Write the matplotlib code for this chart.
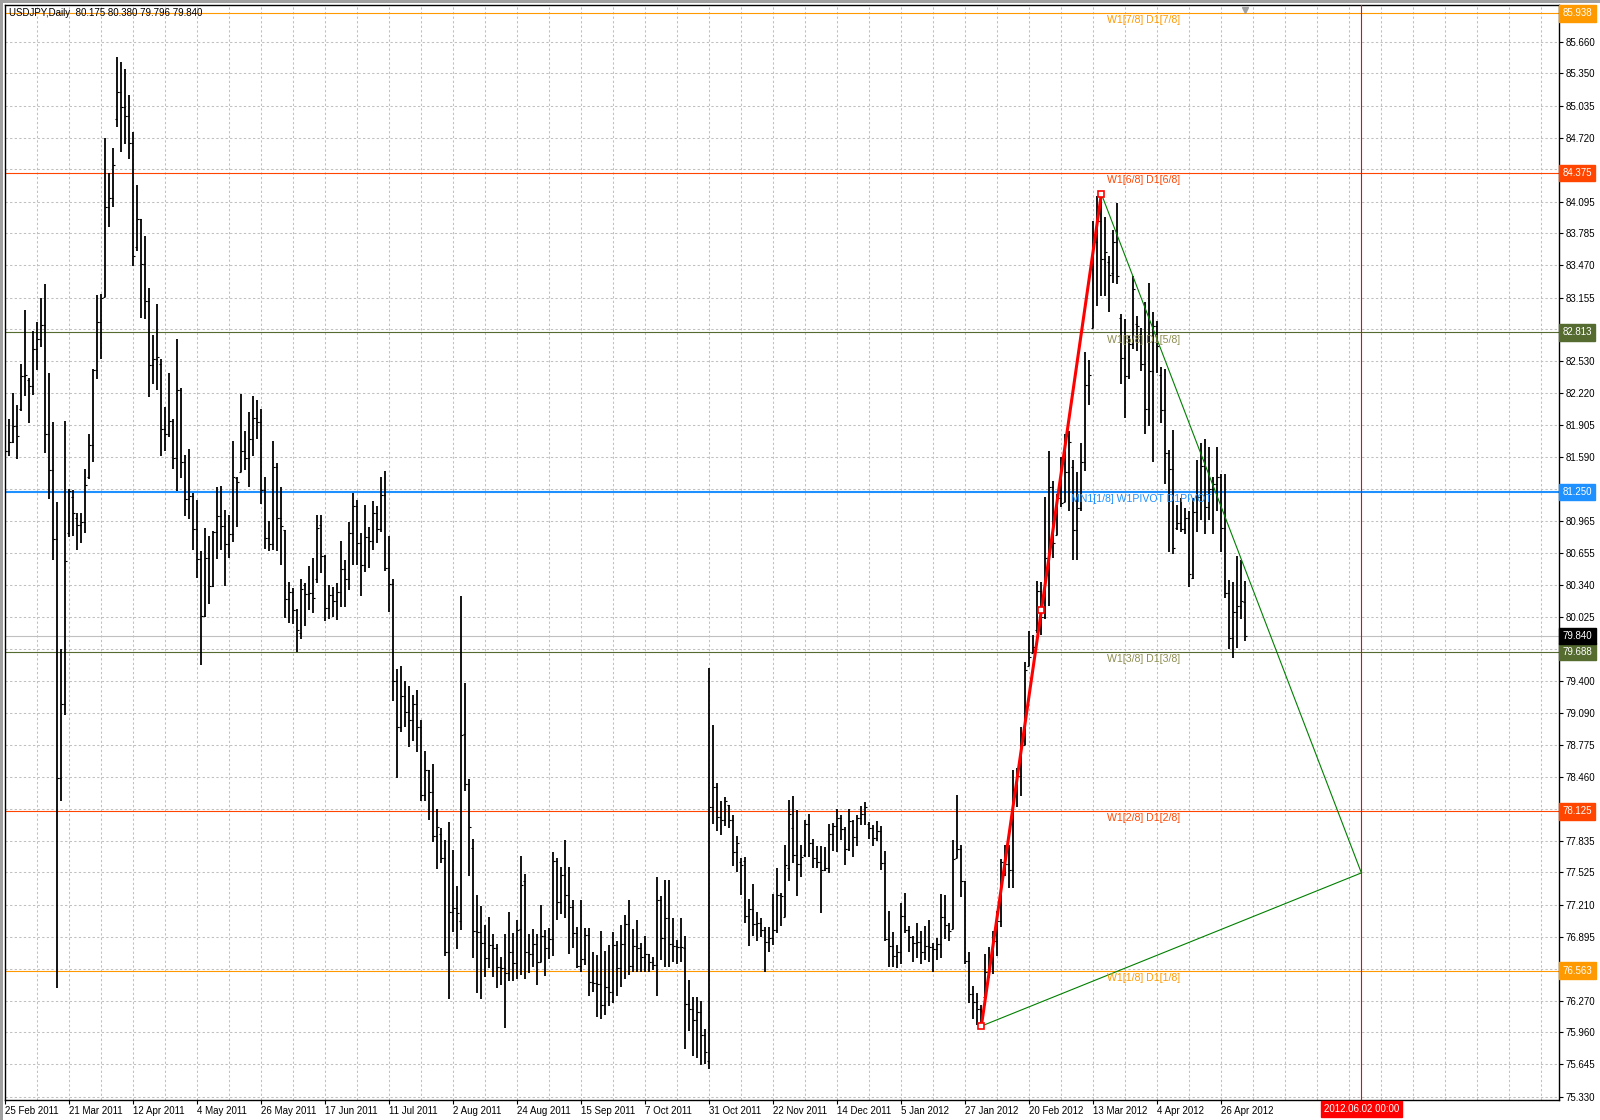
import numpy as np
import matplotlib
matplotlib.use("Agg")
import matplotlib.pyplot as plt
from matplotlib.patches import Rectangle

plt.rcParams['font.family'] = ['Liberation Sans', 'DejaVu Sans']

# ---- USDJPY daily bars (25 Feb 2011 .. early May 2012) ----
opens = [
    81.66, 81.65, 81.74, 81.90, 82.06, 82.39, 82.35, 82.29, 82.65, 82.75,
    82.89, 81.82, 81.47, 80.79, 78.45, 79.17, 80.85, 81.20, 81.00, 80.93,
    80.96, 81.40, 81.71, 82.45, 82.92, 83.16, 84.04, 84.13, 84.90, 85.17,
    85.02, 84.93, 84.67, 83.65, 83.92, 83.48, 83.12, 82.49, 82.55, 82.50,
    81.87, 81.82, 81.95, 81.58, 82.25, 81.54, 81.18, 81.21, 80.89, 80.59,
    80.04, 80.60, 80.33, 80.86, 81.02, 80.92, 80.74, 80.84, 81.39, 81.45,
    81.65, 81.58, 81.77, 81.98, 81.94, 81.27, 80.80, 80.74, 81.50, 81.00,
    80.88, 80.20, 80.27, 80.09, 79.87, 80.34, 80.25, 80.26, 80.40, 80.93,
    80.62, 80.11, 80.24, 80.18, 80.27, 80.50, 80.40, 80.85, 81.11, 80.75,
    80.54, 80.81, 80.77, 81.04, 80.89, 81.22, 80.51, 80.35, 79.40, 78.95,
    79.25, 79.10, 79.02, 79.17, 78.95, 78.28, 78.53, 78.31, 77.88, 77.90,
    77.67, 76.75, 77.14, 77.18, 77.05, 78.88, 78.39, 77.76, 76.95, 76.94,
    76.83, 76.69, 76.81, 76.78, 76.60, 76.59, 76.54, 76.75, 76.64, 76.97,
    77.44, 76.75, 76.73, 76.82, 76.65, 76.90, 76.78, 76.87, 77.64, 77.24,
    77.50, 77.30, 77.19, 76.93, 76.61, 76.68, 76.91, 76.45, 76.44, 76.43,
    76.23, 76.40, 76.35, 76.81, 76.59, 76.82, 77.02, 76.61, 76.80, 76.78,
    76.70, 76.73, 76.65, 76.62, 77.25, 76.88, 77.08, 76.82, 76.80, 76.79,
    76.78, 76.24, 76.19, 76.08, 76.16, 75.93, 75.68, 78.17, 78.36, 78.07,
    78.04, 78.19, 78.04, 77.72, 77.63, 77.64, 77.10, 77.17, 77.02, 77.03,
    76.96, 76.84, 76.88, 76.96, 77.30, 77.09, 77.57, 77.96, 77.70, 77.61,
    77.70, 78.00, 77.81, 77.67, 77.63, 77.55, 77.57, 77.90, 77.98, 78.06,
    77.95, 77.75, 78.03, 77.87, 78.06, 78.10, 78.00, 77.96, 77.86, 77.93,
    77.62, 76.87, 76.80, 76.71, 76.75, 77.10, 76.96, 76.89, 76.83, 76.84,
    76.75, 76.80, 76.79, 76.77, 76.82, 77.09, 77.01, 76.97, 77.67, 77.75,
    77.44, 76.66, 76.33, 76.26, 76.19, 76.30, 76.55, 76.70, 76.85, 77.05,
    77.63, 77.61, 77.55, 78.33, 78.47, 78.77, 79.55, 79.67, 79.90, 80.28,
    80.03, 80.60, 81.30, 80.83, 81.19, 81.15, 81.45, 81.50, 80.88, 81.09,
    81.54, 82.30, 82.86, 83.70, 83.90, 83.53, 83.50, 83.40, 83.70, 82.95,
    82.56, 82.39, 82.70, 82.90, 82.80, 82.50, 82.06, 82.44, 82.88, 82.40,
    82.05, 81.63, 81.48, 80.90, 80.95, 80.89, 81.00, 80.41, 81.05, 81.20,
    81.51, 81.10, 81.28, 81.33, 81.40, 80.90, 80.26, 79.82, 80.08, 80.13,
    80.175,
]
highs = [
    82.05, 81.97, 82.22, 82.10, 82.50, 83.03, 82.37, 82.83, 82.92, 83.15,
    83.29, 82.42, 81.94, 81.15, 79.71, 81.95, 81.28, 81.27, 81.04, 81.04,
    81.48, 81.82, 82.46, 83.18, 83.19, 84.72, 84.37, 84.62, 85.51, 85.46,
    85.39, 85.14, 84.78, 84.26, 83.92, 83.76, 83.25, 82.79, 83.09, 82.55,
    82.08, 82.42, 81.97, 82.75, 82.27, 81.61, 81.67, 81.24, 81.17, 80.67,
    80.90, 80.82, 80.87, 81.30, 81.31, 81.07, 81.03, 81.75, 81.40, 82.21,
    81.85, 82.03, 82.19, 82.15, 82.06, 81.40, 80.97, 81.75, 81.53, 81.30,
    80.88, 80.37, 80.31, 80.10, 80.40, 80.36, 80.53, 80.60, 81.03, 81.03,
    80.63, 80.34, 80.32, 80.36, 80.77, 80.58, 80.96, 81.24, 81.17, 80.85,
    81.12, 80.91, 81.16, 81.11, 81.40, 81.46, 80.82, 80.40, 79.52, 79.55,
    79.40, 79.35, 79.26, 79.31, 79.02, 78.71, 78.53, 78.59, 78.15, 77.96,
    77.84, 78.02, 77.74, 77.39, 80.23, 79.38, 78.44, 77.85, 77.30, 77.20,
    77.01, 77.09, 76.92, 76.82, 76.70, 76.92, 77.14, 76.93, 77.06, 77.69,
    77.51, 76.92, 76.97, 76.92, 77.21, 76.96, 76.98, 77.72, 77.67, 77.58,
    77.84, 77.58, 77.25, 76.99, 77.25, 76.98, 76.98, 76.75, 76.72, 76.95,
    76.76, 76.81, 76.94, 76.85, 77.01, 77.11, 77.25, 76.97, 77.06, 76.83,
    76.90, 76.73, 76.70, 77.48, 77.29, 77.45, 77.45, 77.08, 76.86, 77.08,
    76.90, 76.47, 76.30, 76.30, 76.27, 75.99, 79.53, 78.97, 78.40, 78.22,
    78.26, 78.19, 78.09, 77.88, 77.67, 77.68, 77.26, 77.41, 77.14, 77.08,
    76.99, 76.99, 77.31, 77.57, 77.32, 77.79, 78.23, 78.27, 78.14, 77.79,
    78.04, 78.10, 77.85, 77.78, 77.78, 77.77, 78.00, 78.01, 78.15, 78.09,
    77.97, 78.15, 78.04, 78.09, 78.18, 78.21, 78.02, 77.99, 78.03, 77.98,
    77.73, 77.15, 76.94, 76.81, 77.23, 77.32, 77.00, 76.90, 77.03, 76.95,
    77.00, 77.06, 76.83, 76.88, 77.31, 77.30, 77.03, 77.84, 78.28, 77.79,
    77.44, 76.75, 76.41, 76.34, 76.23, 76.73, 76.79, 76.95, 77.15, 77.66,
    77.79, 77.79, 78.53, 78.55, 78.95, 79.59, 79.89, 79.85, 80.38, 80.37,
    81.20, 81.65, 81.36, 81.23, 81.59, 81.82, 81.85, 81.56, 81.45, 81.73,
    82.62, 82.54, 83.90, 84.15, 84.18, 83.94, 83.56, 83.82, 84.08, 82.99,
    82.94, 82.78, 83.37, 82.97, 82.86, 83.11, 83.30, 83.01, 82.93, 82.47,
    82.46, 81.66, 81.86, 81.12, 81.19, 81.09, 81.06, 81.19, 81.56, 81.73,
    81.77, 81.69, 81.40, 81.69, 81.43, 81.43, 80.39, 80.37, 80.62, 80.58,
    80.38,
]
lows = [
    81.60, 81.60, 81.73, 81.57, 82.04, 82.19, 81.93, 82.20, 82.45, 82.67,
    81.63, 81.18, 80.58, 76.39, 78.22, 79.07, 80.81, 80.82, 80.68, 80.75,
    80.85, 81.38, 81.54, 82.36, 82.55, 83.16, 83.85, 84.04, 84.83, 84.58,
    84.66, 84.51, 83.46, 83.61, 82.95, 82.94, 82.18, 82.31, 82.25, 81.60,
    81.65, 81.79, 81.48, 81.26, 81.39, 81.02, 80.99, 80.68, 80.41, 79.56,
    80.03, 80.15, 80.32, 80.59, 80.68, 80.33, 80.60, 80.76, 80.91, 81.45,
    81.47, 81.30, 81.60, 81.77, 81.13, 80.69, 80.67, 80.68, 80.67, 80.54,
    80.02, 79.97, 79.96, 79.68, 79.81, 79.94, 80.09, 80.07, 80.36, 80.46,
    79.99, 80.01, 80.03, 80.00, 80.12, 80.12, 80.29, 80.54, 80.54, 80.23,
    80.47, 80.51, 80.68, 80.75, 80.86, 80.48, 80.08, 79.20, 78.45, 78.90,
    78.95, 78.75, 78.81, 78.70, 78.22, 78.22, 78.04, 77.82, 77.56, 77.62,
    76.71, 76.29, 76.94, 76.77, 76.96, 78.32, 77.49, 76.69, 76.34, 76.29,
    76.50, 76.59, 76.50, 76.39, 76.42, 76.00, 76.46, 76.46, 76.48, 76.52,
    76.48, 76.54, 76.60, 76.42, 76.65, 76.51, 76.68, 76.71, 77.06, 77.12,
    77.08, 76.73, 76.78, 76.59, 76.55, 76.62, 76.31, 76.35, 76.11, 76.09,
    76.13, 76.22, 76.25, 76.31, 76.40, 76.48, 76.52, 76.55, 76.55, 76.55,
    76.55, 76.55, 76.57, 76.31, 76.67, 76.60, 76.60, 76.65, 76.63, 76.65,
    75.80, 75.97, 75.73, 75.71, 75.64, 75.65, 75.60, 78.00, 77.93, 77.89,
    77.98, 77.96, 77.59, 77.53, 77.30, 77.03, 76.80, 76.90, 76.85, 76.89,
    76.55, 76.75, 76.81, 76.93, 77.00, 77.09, 77.44, 77.62, 77.29, 77.48,
    77.68, 77.68, 77.57, 77.57, 77.13, 77.54, 77.52, 77.73, 77.72, 77.84,
    77.60, 77.73, 77.68, 77.78, 77.99, 77.99, 77.85, 77.78, 77.83, 77.55,
    76.85, 76.60, 76.60, 76.59, 76.63, 76.93, 76.75, 76.65, 76.69, 76.63,
    76.67, 76.65, 76.55, 76.67, 76.69, 76.87, 76.85, 76.97, 77.67, 77.28,
    76.63, 76.25, 76.09, 76.03, 76.02, 76.27, 76.49, 76.53, 76.71, 76.99,
    77.49, 77.37, 77.37, 78.17, 78.27, 78.77, 79.55, 79.67, 79.87, 79.85,
    80.01, 80.13, 80.60, 80.83, 81.10, 81.15, 81.06, 80.58, 80.58, 81.06,
    81.46, 82.10, 82.86, 83.07, 83.17, 83.17, 83.01, 83.30, 83.29, 82.31,
    81.98, 82.36, 82.65, 82.63, 82.44, 81.82, 81.90, 81.54, 82.42, 81.93,
    81.33, 80.66, 80.64, 80.88, 80.86, 80.84, 80.32, 80.40, 80.86, 80.98,
    80.84, 80.98, 80.84, 81.06, 80.66, 80.21, 79.71, 79.62, 79.72, 80.01,
    79.796,
]
closes = [
    81.65, 81.74, 81.90, 81.80, 82.39, 82.40, 82.29, 82.65, 82.75, 82.89,
    81.82, 81.47, 80.79, 78.45, 79.17, 80.57, 81.26, 81.04, 80.93, 80.96,
    81.32, 81.71, 82.45, 82.92, 83.15, 84.04, 84.13, 84.45, 85.17, 85.02,
    84.93, 84.67, 83.56, 83.92, 83.48, 83.12, 82.49, 82.55, 82.57, 81.87,
    81.82, 81.95, 81.58, 82.25, 81.54, 81.18, 81.21, 80.89, 80.59, 80.04,
    80.60, 80.33, 80.86, 81.02, 80.92, 80.74, 80.84, 81.40, 81.35, 81.65,
    81.58, 81.77, 81.98, 81.94, 81.27, 80.80, 80.74, 81.50, 81.00, 80.92,
    80.20, 80.27, 80.09, 79.90, 80.30, 80.25, 80.26, 80.21, 80.90, 80.62,
    80.11, 80.24, 80.18, 80.27, 80.50, 80.40, 80.85, 81.11, 80.75, 80.54,
    80.81, 80.77, 81.04, 80.89, 81.22, 80.51, 80.35, 79.40, 78.95, 79.25,
    79.10, 79.02, 79.17, 78.95, 78.28, 78.53, 78.31, 77.88, 77.97, 77.67,
    76.75, 77.14, 77.18, 77.13, 78.87, 78.39, 77.97, 76.95, 76.94, 76.83,
    76.69, 76.81, 76.78, 76.60, 76.59, 76.54, 76.75, 76.64, 76.96, 77.40,
    76.75, 76.73, 76.82, 76.65, 76.90, 76.78, 76.87, 77.64, 77.24, 77.50,
    77.30, 77.19, 76.93, 76.61, 76.68, 76.91, 76.45, 76.44, 76.43, 76.23,
    76.40, 76.35, 76.81, 76.59, 76.82, 77.02, 76.61, 76.80, 76.78, 76.70,
    76.73, 76.65, 76.62, 77.25, 76.88, 77.08, 76.82, 76.80, 76.79, 76.79,
    76.24, 76.19, 76.08, 76.16, 75.93, 75.77, 78.17, 78.36, 78.07, 78.04,
    78.22, 78.04, 77.72, 77.81, 77.60, 77.10, 77.17, 77.02, 77.03, 76.96,
    76.84, 76.88, 76.96, 77.30, 77.29, 77.60, 78.10, 77.70, 77.61, 77.68,
    78.00, 77.81, 77.67, 77.63, 77.55, 77.57, 77.90, 77.98, 78.06, 77.95,
    77.75, 78.03, 77.87, 78.06, 78.10, 78.17, 77.96, 77.86, 77.93, 77.62,
    76.87, 76.80, 76.71, 76.75, 77.10, 76.96, 76.89, 76.83, 76.84, 76.75,
    76.80, 76.79, 76.77, 76.82, 77.09, 77.01, 76.95, 77.66, 77.75, 77.44,
    76.66, 76.33, 76.26, 76.19, 76.17, 76.55, 76.70, 76.85, 77.05, 77.63,
    77.61, 77.55, 78.33, 78.47, 78.77, 79.51, 79.63, 79.73, 80.28, 80.03,
    80.60, 81.30, 80.75, 81.19, 81.14, 81.45, 81.74, 80.88, 81.09, 81.54,
    82.30, 82.40, 83.70, 83.90, 83.53, 83.60, 83.38, 83.70, 83.37, 82.56,
    82.39, 82.70, 83.24, 82.88, 82.50, 82.06, 82.44, 82.88, 82.68, 82.05,
    81.63, 81.48, 80.70, 80.95, 80.89, 81.00, 80.45, 81.05, 81.20, 81.51,
    81.10, 81.28, 81.33, 81.40, 80.90, 80.26, 79.82, 80.08, 80.13, 80.18,
    79.84,
]

date_labels = ["25 Feb 2011", "21 Mar 2011", "12 Apr 2011", "4 May 2011",
               "26 May 2011", "17 Jun 2011", "11 Jul 2011", "2 Aug 2011",
               "24 Aug 2011", "15 Sep 2011", "7 Oct 2011", "31 Oct 2011",
               "22 Nov 2011", "14 Dec 2011", "5 Jan 2012", "27 Jan 2012",
               "20 Feb 2012", "13 Mar 2012", "4 Apr 2012", "26 Apr 2012"]
date_bars = [0, 16, 32, 48, 64, 80, 96, 112, 128, 144, 160, 176,
             192, 208, 224, 240, 256, 272, 288, 304]

price_ticks = [85.660, 85.350, 85.035, 84.720, 84.410, 84.095, 83.785, 83.470,
               83.155, 82.845, 82.530, 82.220, 81.905, 81.590, 81.280, 80.965,
               80.655, 80.340, 80.025, 79.715, 79.400, 79.090, 78.775, 78.460,
               78.150, 77.835, 77.525, 77.210, 76.895, 76.580, 76.270, 75.960,
               75.645, 75.330]

# Murrey-math style levels
level_prices = [85.938, 84.375, 82.813, 81.250, 79.688, 78.125, 76.563]
level_names = ["W1[7/8] D1[7/8]", "W1[6/8] D1[6/8]", "W1[5/8] D1[5/8]",
               "MN1[1/8] W1PIVOT D1PIVOT", "W1[3/8] D1[3/8]",
               "W1[2/8] D1[2/8]", "W1[1/8] D1[1/8]"]
level_colors = ["#ff9900", "#ff4500", "#556b2f", "#1e90ff",
                "#556b2f", "#ff4500", "#ff9900"]
level_text_colors = ["#ff9900", "#ff4500", "#8c8c50", "#1e90ff",
                     "#8c8c50", "#ff4500", "#ff9900"]

bid_price = 79.840

# zigzag (red) and triangle (green) drawing points: (bar index, price)
zz_bars = [244, 259, 274]
zz_prices = [76.02, 80.09, 84.17]
tri_bars = [244, 339, 274]
tri_prices = [76.02, 77.52, 84.17]

vline_bar = 339
vline_label = "2012.06.02 00:00"
title = "USDJPY,Daily  80.175 80.380 79.796 79.840"

# ---- figure ----
fig = plt.figure(figsize=(16, 11.2), dpi=100, facecolor='white')
ax = fig.add_axes([4.5 / 1600, 20 / 1120, 1554.5 / 1600, 1095.3 / 1120])
ax.set_facecolor('white')

x = np.arange(len(closes))
ax.set_xlim(-0.2, 388.4)
ax.set_ylim(75.296, 86.023)

grid_kw = dict(color='#c0c0c0', linestyle=(0, (2.2, 2.2)), linewidth=0.75, zorder=0)
for v in range(8, 389, 8):
    ax.axvline(v, **grid_kw)
for p in price_ticks:
    ax.axhline(p, **grid_kw)

# level lines
for p, c in zip(level_prices, level_colors):
    ax.axhline(p, color=c, lw=1.5 if c == "#1e90ff" else 0.8, zorder=1)
ax.axhline(bid_price, color='#c0c0c0', lw=0.8, zorder=1)

# bars
ax.vlines(x, lows, highs, color='black', lw=1.3, zorder=3)
ax.hlines(opens, x - 0.5, x, color='black', lw=0.8, zorder=3)
ax.hlines(closes, x, x + 0.5, color='black', lw=0.8, zorder=3)

# drawings
ax.plot(tri_bars[:2], tri_prices[:2], color='#008000', lw=0.8, zorder=4)
ax.plot(tri_bars[1:], tri_prices[1:], color='#008000', lw=0.8, zorder=4)
ax.plot(zz_bars, zz_prices, color='red', lw=2.2, zorder=5)
ax.plot(zz_bars, zz_prices, ls='none', marker='s', ms=4.5, mfc='white',
        mec='red', mew=1.2, zorder=6)

ax.axvline(vline_bar, color='red', lw=0.8, zorder=4)

# level labels inside the chart
for p, name, c, in zip(level_prices, level_names, level_text_colors):
    lx = 266.4 if name.startswith("MN1") else 275.4
    ax.annotate(name, xy=(lx, p), xytext=(0, -1.5), textcoords='offset points',
                ha='left', va='top', fontsize=7.6, color=c, zorder=7)

# axes styling
ax.yaxis.tick_right()
ax.set_yticks(price_ticks)
ax.set_yticklabels([f"{p:.3f}" for p in price_ticks])
ax.set_xticks(date_bars)
ax.set_xticklabels(date_labels, ha='left')
ax.tick_params(axis='both', labelsize=7, length=3, width=0.8, pad=1.5,
               colors='black')
for s in ax.spines.values():
    s.set_color('black')
    s.set_linewidth(1.0)

# price boxes on the right axis
box_kw = dict(xycoords=('axes fraction', 'data'), xytext=(2.5, 0),
              textcoords='offset points', ha='left', va='center', fontsize=7,
              color='white', annotation_clip=False, zorder=10)
for p, c in zip(level_prices, level_colors):
    ax.annotate(f"{p:.3f}", xy=(1, p),
                bbox=dict(boxstyle='square,pad=0.35', fc=c, ec=c), **box_kw)
ax.annotate(f"{bid_price:.3f}", xy=(1, bid_price),
            bbox=dict(boxstyle='square,pad=0.35', fc='black', ec='black'), **box_kw)

# date box for the vertical line
ax.annotate(vline_label, xy=(vline_bar, 0), xycoords=('data', 'axes fraction'),
            xytext=(0, -6.5), textcoords='offset points', ha='center', va='center',
            fontsize=7, color='white', annotation_clip=False,
            bbox=dict(boxstyle='square,pad=0.3', fc='red', ec='red'), zorder=10)

# chart shift marker
ax.plot([310], [0.995], transform=ax.get_xaxis_transform(), marker='v',
        color='#a0a0a0', ms=5, clip_on=False, zorder=8)

fig.text(9 / 1600, 1 - 13.3 / 1120, title, fontsize=7, va='center', ha='left',
         color='black', zorder=10)

# window frame
fig.patches.append(Rectangle((0, 1 - 3 / 1120), 1, 3 / 1120, transform=fig.transFigure,
                             fc='#a0a0a0', ec='none'))
fig.patches.append(Rectangle((0, 0), 3 / 1600, 1, transform=fig.transFigure,
                             fc='#a0a0a0', ec='none'))

fig.savefig('out.png', dpi=100, facecolor='white')
